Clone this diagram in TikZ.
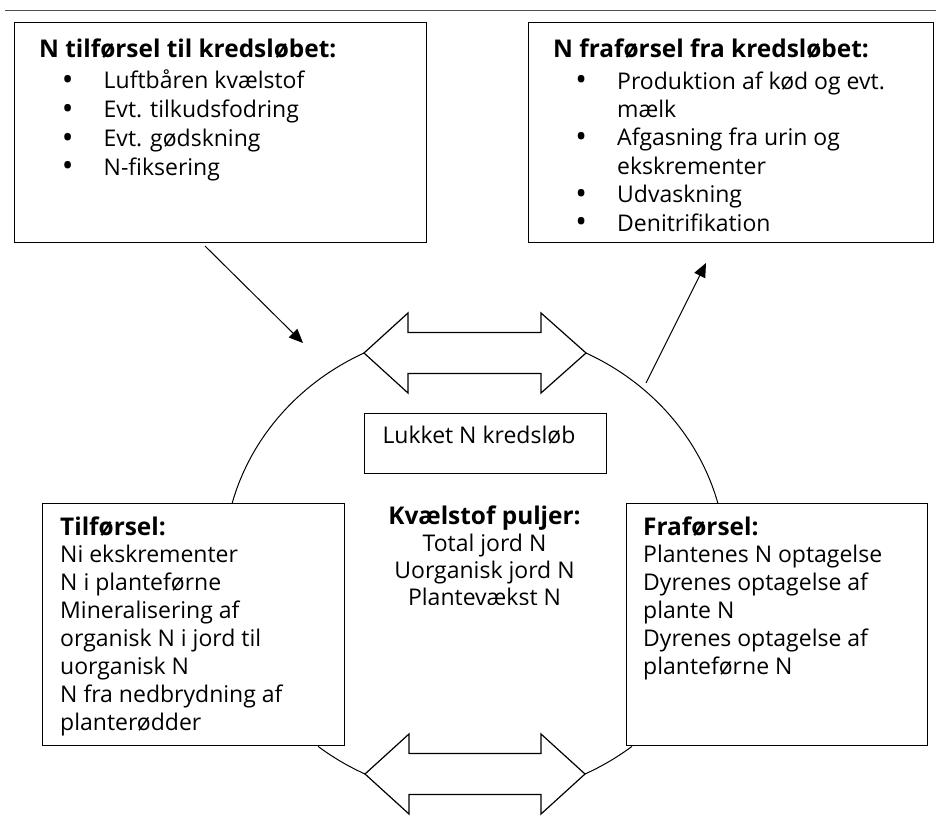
\documentclass[tikz,border=0pt]{standalone}
\usepackage{fontspec}
\setmainfont{Open Sans}
\usetikzlibrary{arrows.meta}
\newcommand{\bul}{\makebox[0pt]{\raisebox{-1.5pt}{\fontsize{31}{31}\selectfont\textbullet}}\hspace*{36pt}}
\newcommand{\ind}{\hspace*{36pt}}
\begin{document}
\begin{tikzpicture}[x=1pt,y=-1pt,
  box/.style={draw=black, line width=1.2pt, fill=white, inner sep=0pt, anchor=north west},
  conn/.style={draw=black, line width=1pt},
  dbl/.style={draw=black, line width=1.2pt, fill=white, line join=miter},
  tip/.style={-{Triangle[length=14pt,width=12pt]}},
  txt/.style={anchor=base west, inner sep=0pt, align=left},
  fs/.style={font=\fontsize{23}{#1}\selectfont},
  hd/.style={font=\fontsize{24.4}{29}\selectfont\bfseries}]
\useasboundingbox (0,0) rectangle (936,837);

% top rule
\coordinate (ruleL) at (5,11);
\coordinate (ruleR) at (936,11);
\draw[black!70, line width=1pt] (ruleL) -- (ruleR);

% boxes
\node[box, minimum width=412pt, minimum height=220pt] (inbox) at (14,22) {};
\node[box, minimum width=405pt, minimum height=220pt] (outbox) at (528,22) {};
\node[box, minimum width=302pt, minimum height=242pt] (tilf) at (42,503) {};
\node[box, minimum width=301pt, minimum height=242pt] (fraf) at (626,503) {};
\node[box, minimum width=242pt, minimum height=60pt] (lukket) at (364,413) {};

% double arrows
\coordinate (tL) at (364,353);
\coordinate (tR) at (586,353);
\draw[dbl] (tL) -- (408,313) -- (408,332.5) -- (541,332.5) -- (541,313) -- (tR)
  -- (541,393) -- (541,373.5) -- (408,373.5) -- (408,393) -- cycle;
\coordinate (bL) at (365,774);
\coordinate (bR) at (585,774);
\draw[dbl] (bL) -- (409,734) -- (409,753.5) -- (541,753.5) -- (541,734) -- (bR)
  -- (541,814) -- (541,794.5) -- (409,794.5) -- (409,814) -- cycle;

% cycle arcs
\draw[conn] (tL) arc[start angle=116.2, end angle=165.2, x radius=251pt, y radius=234pt];
\draw[conn] (tR) arc[start angle=63.8, end angle=14.8, x radius=251pt, y radius=234pt];
\draw[conn] (bL) arc[start angle=244.1, end angle=231.4, x radius=251pt, y radius=234pt];
\draw[conn] (bR) arc[start angle=295.9, end angle=308.6, x radius=251pt, y radius=234pt];

% in/out arrows
\coordinate (inS) at (205,246);
\coordinate (inE) at (303,343);
\draw[conn, tip] (inS) -- (inE);
\coordinate (outS) at (646,383);
\coordinate (outE) at (706,263);
\draw[conn, tip] (outS) -- (outE);

% texts of top boxes (multi-line nodes: base = last line)
\node[txt, hd] (inhead) at (39,58) {N tilførsel til kredsløbet:};
\node[txt, fs=28.8] (inlist) at (67.5,175.4) {%
\bul Luftbåren kvælstof\\
\bul Evt. tilkudsfodring\\
\bul Evt. gødskning\\
\bul N-fiksering};

\node[txt, hd] (outhead) at (553,58) {N fraførsel fra kredsløbet:};
\node[txt, fs=28.4] (outlist) at (581,231) {%
\bul Produktion af kød og evt.\\
\ind mælk\\
\bul Afgasning fra urin og\\
\ind ekskrementer\\
\bul Udvaskning\\
\bul Denitrifikation};

% centre texts
\node[txt, fs=28] (lukkettxt) at (382.3,443.3) {Lukket N kredsløb};
\begin{scope}
\clip (370,490) rectangle (600,604);
\node[anchor=base, inner sep=0pt, align=center, fs=27] (pool) at (484.5,605)
  {{\fontsize{24.4}{27}\selectfont\bfseries Kvælstof puljer:}\\Total jord N\\Uorganisk jord N\\Plantevækst N};
\end{scope}

% bottom boxes texts
\node[txt, fs=27.9] (tilftxt) at (60,730.3) {{\fontsize{24.4}{27.9}\selectfont\bfseries Tilførsel:}\\
Ni ekskrementer\\
N i planteførne\\
Mineralisering af\\
organisk N i jord til\\
uorganisk N\\
N fra nedbrydning af\\
planterødder};
\node[txt, fs=27.9] (fraftxt) at (643,674.5) {{\fontsize{24.4}{27.9}\selectfont\bfseries Fraførsel:}\\
Plantenes N optagelse\\
Dyrenes optagelse af\\
plante N\\
Dyrenes optagelse af\\
planteførne N};
\end{tikzpicture}
\end{document}
